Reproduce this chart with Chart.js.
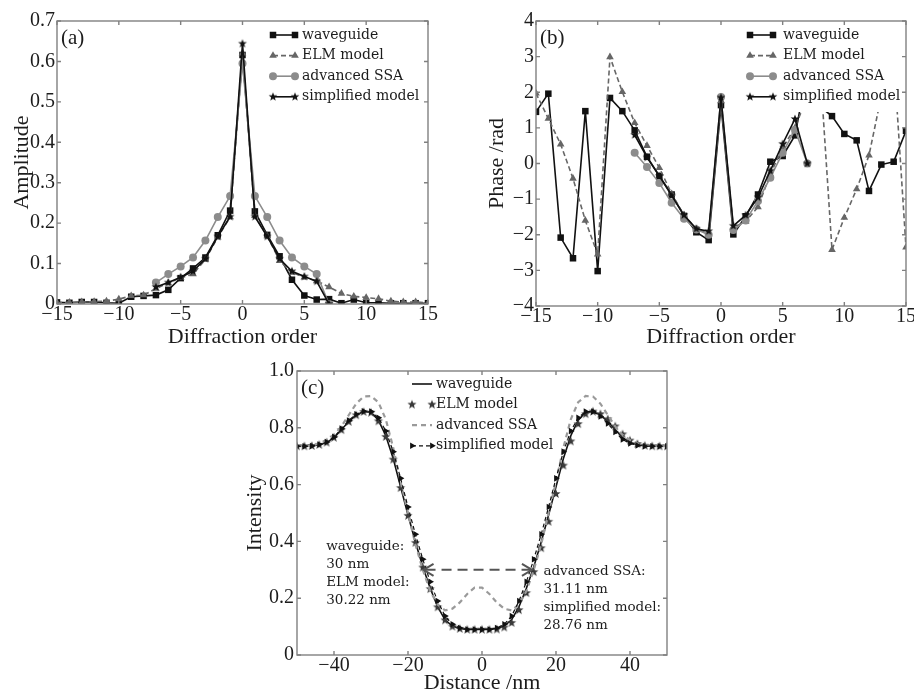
<!DOCTYPE html>
<html>
<head>
<meta charset="utf-8">
<script src="https://cdn.jsdelivr.net/npm/chart.js@4.4.1/dist/chart.umd.min.js"></script>
<style>
  html, body { margin: 0; padding: 0; background: #fff; }
  #wrap { position: relative; width: 914px; height: 691px; overflow: hidden; }
  canvas { position: absolute; }
</style>
</head>
<body>
<div id="wrap">
  <canvas id="ampChart" width="440" height="350" style="left:0;top:0"></canvas>
  <canvas id="phaseChart" width="474" height="350" style="left:440px;top:0"></canvas>
  <canvas id="intChart" width="460" height="341" style="left:230px;top:350px"></canvas>
</div>
<script>
// ---- data: (a) amplitude, (b) phase vs diffraction order ----
const orders = [-15, -14, -13, -12, -11, -10, -9, -8, -7, -6, -5, -4, -3, -2, -1, 0,
                1, 2, 3, 4, 5, 6, 7, 8, 9, 10, 11, 12, 13, 14, 15];
const orderTicks = [-15, -10, -5, 0, 5, 10, 15];

const ampWaveguide = [0.004, 0.003, 0.005, 0.005, 0.003, 0.002, 0.018, 0.02, 0.022, 0.035, 0.064, 0.088, 0.115, 0.17, 0.231,
                      0.616,
                      0.229, 0.171, 0.118, 0.06, 0.021, 0.011, 0.012, 0.002, 0.011, 0.003, 0.003, 0.002, 0.002, 0.002, 0.002];
const ampElm = [0.003, 0.004, 0.005, 0.006, 0.007, 0.012, 0.02, 0.022, 0.038, 0.052, 0.065, 0.074, 0.11, 0.165, 0.215,
                0.62,
                0.218, 0.168, 0.107, 0.078, 0.066, 0.057, 0.042, 0.026, 0.019, 0.016, 0.013, 0.007, 0.005, 0.005, 0.003];
const ampSsa = [null, null, null, null, null, null, null, null, 0.053, 0.074, 0.093, 0.115, 0.157, 0.215, 0.267,
                0.595,
                0.267, 0.215, 0.157, 0.115, 0.093, 0.074, 0, null, null, null, null, null, null, null, null];
const ampSimplified = [null, null, null, null, null, null, null, null, 0.042, 0.053, 0.066, 0.081, 0.112, 0.167, 0.216,
                       0.644,
                       0.216, 0.167, 0.112, 0.081, 0.068, 0.056, 0, null, null, null, null, null, null, null, null];
const ampTicks = [0, 0.1, 0.2, 0.3, 0.4, 0.5, 0.6, 0.7];
const ampTickLabels = ['0', '0.1', '0.2', '0.3', '0.4', '0.5', '0.6', '0.7'];

const phWaveguide = [1.45, 1.96, -2.08, -2.66, 1.47, -3.02, 1.84, 1.47, 0.93, 0.19, -0.35, -0.87, -1.47, -1.93, -2.15,
                     1.64,
                     -1.99, -1.48, -0.87, 0.05, 0.21, 0.79, 2.6, 1.6, 1.33, 0.83, 0.65, -0.77, -0.03, 0.05, 0.92];
const phElm = [1.97, 1.26, 0.54, -0.42, -1.6, -2.55, 2.99, 2.01, 1.14, 0.5, -0.12, -0.85, -1.45, -1.85, -1.95,
               1.75,
               -1.8, -1.63, -1.22, -0.3, 0.45, 1.0, 1.9, 2.85, -2.42, -1.52, -0.72, 0.23, 1.9, 3.0, -2.35];
const phSsa = [null, null, null, null, null, null, null, null, 0.3, -0.1, -0.55, -1.1, -1.55, -1.85, -2.0,
               1.87,
               -1.87, -1.6, -1.05, -0.4, 0.3, 0.95, 0, null, null, null, null, null, null, null, null];
const phSimplified = [null, null, null, null, null, null, null, null, 0.8, 0.17, -0.35, -0.9, -1.45, -1.83, -1.9,
                      1.85,
                      -1.75, -1.45, -0.95, -0.2, 0.55, 1.25, 0, null, null, null, null, null, null, null, null];
const phTicks = [-4, -3, -2, -1, 0, 1, 2, 3, 4];

// ---- data: (c) intensity vs distance ----
const distance = [-50, -48, -46, -44, -42, -40, -38, -36, -34, -32, -30, -28, -26, -24, -22, -20, -18, -16, -14, -12, -10, -8, -6, -4, -2,
                  0, 2, 4, 6, 8, 10, 12, 14, 16, 18, 20, 22, 24, 26, 28, 30, 32, 34, 36, 38, 40, 42, 44, 46, 48, 50];
const intWaveguide = [0.735, 0.735, 0.736, 0.74, 0.748, 0.765, 0.793, 0.822, 0.845, 0.857, 0.855, 0.827, 0.772, 0.692, 0.592,
                      0.493, 0.398, 0.311, 0.235, 0.17, 0.124, 0.102, 0.093, 0.09, 0.09,
                      0.09, 0.09, 0.093, 0.102, 0.124, 0.17, 0.235, 0.311, 0.398, 0.493, 0.592, 0.692, 0.772, 0.827, 0.855,
                      0.857, 0.845, 0.822, 0.793, 0.765, 0.748, 0.74, 0.736, 0.735, 0.735, 0.735];
const intElm = [0.735, 0.735, 0.736, 0.74, 0.748, 0.765, 0.792, 0.821, 0.844, 0.856, 0.853, 0.823, 0.768, 0.688, 0.588,
                0.49, 0.395, 0.308, 0.232, 0.168, 0.122, 0.1, 0.092, 0.089, 0.089,
                0.089, 0.089, 0.09, 0.097, 0.113, 0.158, 0.218, 0.292, 0.376, 0.469, 0.567, 0.667, 0.752, 0.813, 0.848,
                0.857, 0.848, 0.83, 0.805, 0.777, 0.755, 0.743, 0.737, 0.735, 0.735, 0.735];
const intSsa = [0.735, 0.735, 0.737, 0.745, 0.757, 0.775, 0.805, 0.845, 0.885, 0.91, 0.912, 0.89, 0.83, 0.73, 0.61,
                0.5, 0.39, 0.3, 0.225, 0.178, 0.157, 0.163, 0.185, 0.215, 0.237,
                0.237, 0.215, 0.185, 0.163, 0.157, 0.178, 0.225, 0.3, 0.39, 0.5, 0.61, 0.73, 0.83, 0.89, 0.912,
                0.91, 0.885, 0.845, 0.805, 0.775, 0.757, 0.745, 0.737, 0.735, 0.735, 0.735];
const intSimplified = [0.735, 0.735, 0.736, 0.741, 0.75, 0.768, 0.797, 0.826, 0.848, 0.858, 0.857, 0.835, 0.789, 0.716, 0.622,
                       0.521, 0.425, 0.337, 0.258, 0.19, 0.137, 0.108, 0.095, 0.09, 0.09,
                       0.09, 0.09, 0.095, 0.108, 0.137, 0.19, 0.258, 0.337, 0.425, 0.521, 0.622, 0.716, 0.789, 0.835, 0.857,
                       0.857, 0.84, 0.815, 0.785, 0.759, 0.745, 0.738, 0.735, 0.735, 0.735, 0.735];
const distTicks = [-40, -20, 0, 20, 40];
const intTicks = [0, 0.2, 0.4, 0.6, 0.8, 1.0];
const intTickLabels = ['0', '0.2', '0.4', '0.6', '0.8', '1.0'];

const widthArrowX = [-15.8, 13.5];
const widthArrowY = 0.3;
const noteLeft = ['waveguide:', '30 nm', 'ELM model:', '30.22 nm'];
const noteRight = ['advanced SSA:', '31.11 nm', 'simplified model:', '28.76 nm'];

// ---- styling ----
const SERIF = '"Liberation Serif", "DejaVu Serif", serif';
const LEGEND_SERIF = '"DejaVu Serif", serif';
const TEXT = '#1c1c1c';
const FRAME = '#808080';
const tickFont = { family: SERIF, size: 20, lineHeight: 1 };
const titleFont = { family: SERIF, size: 22, lineHeight: 1 };

function minus(v) {
    return String(v).replace('-', '\u2212');
}

function toXY(xs, ys) {
    return xs.map((x, i) => ({ x: x, y: ys[i] }));
}

function makeStar(color, r) {
    const c = document.createElement('canvas');
    const s = Math.ceil(r * 2 + 2);
    c.width = s;
    c.height = s;
    const g = c.getContext('2d');
    g.fillStyle = color;
    g.beginPath();
    for (let i = 0; i < 10; i++) {
        const rad = i % 2 ? r * 0.42 : r;
        const a = -Math.PI / 2 + i * Math.PI / 5;
        g.lineTo(s / 2 + rad * Math.cos(a), s / 2 + rad * Math.sin(a));
    }
    g.closePath();
    g.fill();
    return c;
}

const starBlack = makeStar('#111', 4.6);
const starGray = makeStar('#3a3a3a', 4.8);

function noPadding(s) {
    s.paddingLeft = 0; s.paddingRight = 0; s.paddingTop = 0; s.paddingBottom = 0;
}

function xAxis(cfg) {
    return {
        type: 'linear',
        min: cfg.min,
        max: cfg.max,
        afterBuildTicks: (s) => { s.ticks = cfg.ticks.map(v => ({ value: v })); },
        afterFit: (s) => { s.height = cfg.height; noPadding(s); },
        grid: { display: false, drawTicks: false },
        border: { display: false },
        ticks: {
            font: tickFont, color: TEXT, padding: cfg.tickPad,
            maxRotation: 0, autoSkip: false,
            callback: (v) => minus(v)
        },
        title: {
            display: true, text: cfg.title, font: titleFont, color: TEXT,
            padding: { top: 0, bottom: cfg.titlePad }
        }
    };
}

function yAxis(cfg) {
    return {
        min: cfg.min,
        max: cfg.max,
        afterBuildTicks: (s) => { s.ticks = cfg.ticks.map(v => ({ value: v })); },
        afterFit: (s) => { s.width = cfg.width; noPadding(s); },
        grid: { display: false, drawTicks: false },
        border: { display: false },
        ticks: {
            font: tickFont, color: TEXT, padding: cfg.tickPad, autoSkip: false,
            callback: (v, i) => cfg.labels ? cfg.labels[i] : minus(v)
        },
        title: {
            display: true, text: cfg.title, font: titleFont, color: TEXT,
            padding: { top: cfg.titlePad, bottom: 0 }
        }
    };
}

// legend marker, same shapes as the chart points
function drawMarker(ctx, ds, x, y) {
    const style = ds.pointStyle;
    const r = ds.pointRadius;
    ctx.save();
    ctx.translate(x, y);
    ctx.rotate((ds.pointRotation || 0) * Math.PI / 180);
    ctx.fillStyle = ds.pointBackgroundColor;
    if (typeof style === 'object') {
        ctx.drawImage(style, -style.width / 2, -style.height / 2);
    } else if (style === 'rect') {
        const h = r * Math.SQRT1_2;
        ctx.fillRect(-h, -h, 2 * h, 2 * h);
    } else if (style === 'triangle') {
        ctx.beginPath();
        ctx.moveTo(0, -r);
        ctx.lineTo(r * 0.866, r * 0.5);
        ctx.lineTo(-r * 0.866, r * 0.5);
        ctx.closePath();
        ctx.fill();
    } else {
        ctx.beginPath();
        ctx.arc(0, 0, r, 0, Math.PI * 2);
        ctx.fill();
    }
    ctx.restore();
}

// frame with inward ticks, legend, panel label and notes
const decorPlugin = {
    id: 'decor',
    afterDatasetsDraw(chart, args, o) {
        const { ctx, chartArea: a, scales } = chart;
        ctx.save();

        if (o.legend && o.legend.box) {
            const b = o.legend.box;
            ctx.fillStyle = '#fff';
            ctx.fillRect(b[0], b[1], Math.min(b[2], a.right - b[0] - 1), b[3]);
        }

        if (o.arrow) {
            const y = scales.y.getPixelForValue(o.arrow.y);
            const x0 = scales.x.getPixelForValue(o.arrow.x[0]);
            const x1 = scales.x.getPixelForValue(o.arrow.x[1]);
            ctx.strokeStyle = '#555';
            ctx.lineWidth = 2;
            ctx.setLineDash([10, 6]);
            ctx.beginPath();
            ctx.moveTo(x0 + 2, y);
            ctx.lineTo(x1 - 2, y);
            ctx.stroke();
            ctx.setLineDash([]);
            ctx.beginPath();
            ctx.moveTo(x0 + 10, y - 6); ctx.lineTo(x0, y); ctx.lineTo(x0 + 10, y + 6);
            ctx.moveTo(x1 - 10, y - 6); ctx.lineTo(x1, y); ctx.lineTo(x1 - 10, y + 6);
            ctx.stroke();
        }

        // frame and ticks
        ctx.strokeStyle = FRAME;
        ctx.lineWidth = 1.4;
        ctx.beginPath();
        scales.x.ticks.forEach(t => {
            const px = scales.x.getPixelForValue(t.value);
            ctx.moveTo(px, a.bottom); ctx.lineTo(px, a.bottom - 4);
            ctx.moveTo(px, a.top); ctx.lineTo(px, a.top + 4);
        });
        scales.y.ticks.forEach(t => {
            const py = scales.y.getPixelForValue(t.value);
            ctx.moveTo(a.left, py); ctx.lineTo(a.left + 4, py);
            ctx.moveTo(a.right, py); ctx.lineTo(a.right - 4, py);
        });
        ctx.stroke();
        ctx.strokeRect(a.left, a.top, a.right - a.left, a.bottom - a.top);

        // panel label
        ctx.fillStyle = TEXT;
        ctx.font = '21px ' + SERIF;
        ctx.textBaseline = 'middle';
        ctx.textAlign = 'left';
        ctx.fillText(o.panel, a.left + 4, a.top + 17);

        // legend
        if (o.legend) {
            const lg = o.legend;
            chart.data.datasets.forEach((ds, i) => {
                const y = lg.y + i * lg.row;
                ctx.save();
                if (ds.showLine !== false) {
                    ctx.strokeStyle = ds.borderColor;
                    ctx.lineWidth = ds.borderWidth;
                    ctx.setLineDash(ds.borderDash || []);
                    ctx.beginPath();
                    ctx.moveTo(lg.x0, y);
                    ctx.lineTo(lg.x1, y);
                    ctx.stroke();
                    ctx.setLineDash([]);
                }
                if (ds.pointRadius > 0) {
                    drawMarker(ctx, ds, lg.x0, y);
                    drawMarker(ctx, ds, lg.x1, y);
                }
                ctx.fillStyle = TEXT;
                ctx.font = '14px ' + LEGEND_SERIF;
                ctx.textBaseline = 'middle';
                ctx.textAlign = 'left';
                ctx.fillText(ds.label, lg.tx, y);
                ctx.restore();
            });
        }

        // notes
        if (o.notes) {
            ctx.font = '13.5px ' + LEGEND_SERIF;
            ctx.fillStyle = TEXT;
            ctx.textBaseline = 'middle';
            ctx.textAlign = 'left';
            o.notes.forEach(n => {
                const nx = scales.x.getPixelForValue(n.x);
                const ny = scales.y.getPixelForValue(n.y);
                n.lines.forEach((s, i) => ctx.fillText(s, nx, ny + i * 18));
            });
        }
        ctx.restore();
    }
};

function baseOptions(padding, xCfg, yCfg, decor) {
    return {
        responsive: false,
        animation: false,
        devicePixelRatio: 1,
        layout: { padding: padding },
        elements: { line: { tension: 0 } },
        plugins: {
            legend: { display: false },
            tooltip: { enabled: false },
            decor: decor
        },
        scales: { x: xAxis(xCfg), y: yAxis(yCfg) }
    };
}

function orderSets(wg, elm, ssa, simp) {
    return [{
        label: 'waveguide', data: toXY(orders, wg), order: 4,
        borderColor: '#111', borderWidth: 1.6,
        pointStyle: 'rect', pointRadius: 4.6,
        pointBackgroundColor: '#111', pointBorderColor: '#111', pointBorderWidth: 0
    }, {
        label: 'ELM model', data: toXY(orders, elm), order: 3,
        borderColor: '#666', borderWidth: 1.6, borderDash: [5, 3],
        pointStyle: 'triangle', pointRadius: 4.4,
        pointBackgroundColor: '#666', pointBorderColor: '#666', pointBorderWidth: 0
    }, {
        label: 'advanced SSA', data: toXY(orders, ssa), order: 2,
        borderColor: '#8c8c8c', borderWidth: 1.6,
        pointStyle: 'circle', pointRadius: 4,
        pointBackgroundColor: '#8c8c8c', pointBorderColor: '#8c8c8c', pointBorderWidth: 0
    }, {
        label: 'simplified model', data: toXY(orders, simp), order: 1,
        borderColor: '#111', borderWidth: 1.6,
        pointStyle: starBlack, pointRadius: 4,
        pointBackgroundColor: '#111', pointBorderColor: '#111', pointBorderWidth: 0
    }];
}

function initAmplitudeChart() {
    const ctx = document.getElementById('ampChart').getContext('2d');
    new Chart(ctx, {
        type: 'line',
        data: { datasets: orderSets(ampWaveguide, ampElm, ampSsa, ampSimplified) },
        options: baseOptions(
            { top: 21, right: 12, bottom: 0, left: 0 },
            { min: -15, max: 15, ticks: orderTicks, height: 46, tickPad: 1, title: 'Diffraction order', titlePad: 2 },
            { min: 0, max: 0.7, ticks: ampTicks, labels: ampTickLabels, width: 57, tickPad: 2, title: 'Amplitude', titlePad: 11.5 },
            { panel: '(a)', legend: { x0: 273, x1: 295, tx: 302, y: 35, row: 20.6, box: [268, 22, 170, 88] } }
        ),
        plugins: [decorPlugin]
    });
}

function initPhaseChart() {
    const ctx = document.getElementById('phaseChart').getContext('2d');
    new Chart(ctx, {
        type: 'line',
        data: { datasets: orderSets(phWaveguide, phElm, phSsa, phSimplified) },
        options: baseOptions(
            { top: 21, right: 8, bottom: 0, left: 0 },
            { min: -15, max: 15, ticks: orderTicks, height: 44, tickPad: 1, title: 'Diffraction order', titlePad: 2 },
            { min: -4, max: 4, ticks: phTicks, width: 96, tickPad: 2, title: 'Phase /rad', titlePad: 46.5 },
            { panel: '(b)', legend: { x0: 310, x1: 333, tx: 343, y: 35, row: 20.6, box: [305, 22, 170, 90] } }
        ),
        plugins: [decorPlugin]
    });
}

function initIntensityChart() {
    const ctx = document.getElementById('intChart').getContext('2d');
    new Chart(ctx, {
        type: 'line',
        data: {
            datasets: [{
                label: 'waveguide', data: toXY(distance, intWaveguide), order: 4,
                borderColor: '#111', borderWidth: 1.6, pointRadius: 0
            }, {
                label: 'ELM model', data: toXY(distance, intElm), order: 3,
                showLine: false, borderColor: '#3a3a3a',
                pointStyle: starGray, pointRadius: 4,
                pointBackgroundColor: '#3a3a3a', pointBorderColor: '#3a3a3a'
            }, {
                label: 'advanced SSA', data: toXY(distance, intSsa), order: 2,
                borderColor: '#9a9a9a', borderWidth: 2.2, borderDash: [5, 4], pointRadius: 0
            }, {
                label: 'simplified model', data: toXY(distance, intSimplified), order: 1,
                borderColor: '#111', borderWidth: 1.2, borderDash: [4, 3],
                pointStyle: 'triangle', pointRotation: 90, pointRadius: 3.8,
                pointBackgroundColor: '#111', pointBorderColor: '#111', pointBorderWidth: 0
            }]
        },
        options: baseOptions(
            { top: 21, right: 23, bottom: 0, left: 0 },
            { min: -50, max: 50, ticks: distTicks, height: 36, tickPad: 1, title: 'Distance /nm', titlePad: -3 },
            { min: 0, max: 1, ticks: intTicks, labels: intTickLabels, width: 67, tickPad: 3, title: 'Intensity', titlePad: 14 },
            {
                panel: '(c)',
                legend: { x0: 182, x1: 202, tx: 206, y: 34, row: 20.6, box: null },
                arrow: { x: widthArrowX, y: widthArrowY },
                notes: [
                    { x: -42.1, y: 0.381, lines: noteLeft },
                    { x: 16.6, y: 0.293, lines: noteRight }
                ]
            }
        ),
        plugins: [decorPlugin]
    });
}

initAmplitudeChart();
initPhaseChart();
initIntensityChart();
</script>
</body>
</html>
